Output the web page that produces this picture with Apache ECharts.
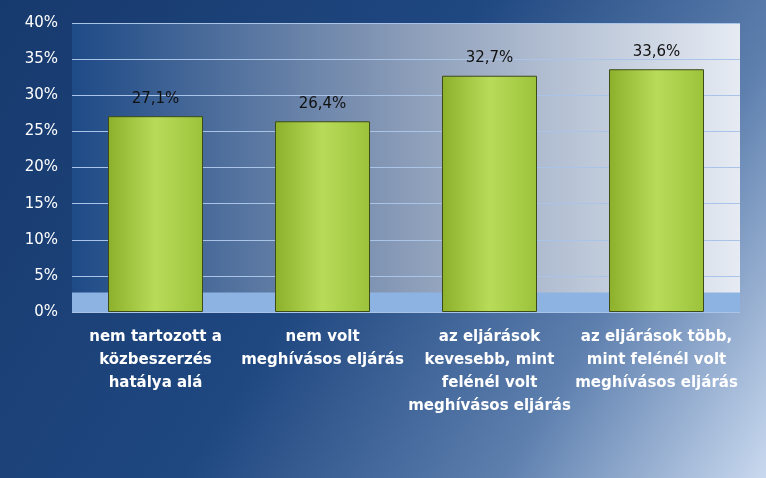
<!DOCTYPE html>
<html><head><meta charset="utf-8">
<script src="https://cdn.jsdelivr.net/npm/echarts@6/dist/echarts.min.js"></script>
<style>html,body{margin:0;padding:0}#c{width:766px;height:478px}</style>
</head><body><div id="c"></div>
<script>
const categories = ['nem tartozott a\nközbeszerzés\nhatálya alá','nem volt\nmeghívásos eljárás','az eljárások\nkevesebb, mint\nfelénél volt\nmeghívásos eljárás','az eljárások több,\nmint felénél volt\nmeghívásos eljárás'];
const values = [27.1, 26.4, 32.7, 33.6];
const valueLabels = ['27,1%','26,4%','32,7%','33,6%'];
const chart = echarts.init(document.getElementById('c'));
chart.setOption({
  backgroundColor: {type:'linear',x:0,y:0,x2:1,y2:1,colorStops:[{offset:0,color:'#173a6e'},{offset:0.45,color:'#1f4780'},{offset:0.75,color:'#5d7fae'},{offset:1,color:'#c9d9ef'}]},
  grid:{left:72,right:26,top:23,bottom:166,show:true,borderColor:'#ffffff',borderWidth:0,
    backgroundColor:{type:'linear',x:0,y:0,x2:1,y2:0,colorStops:[{offset:0,color:'#1e4a86'},{offset:0.5,color:'#8a9cb8'},{offset:1,color:'#e6ebf3'}]}},
  xAxis:{type:'category',data:categories,axisTick:{show:false},axisLine:{show:false},
    axisLabel:{color:'#ffffff',fontWeight:'bold',fontSize:15,fontFamily:'DejaVu Sans',lineHeight:23,margin:14,interval:0}},
  yAxis:{type:'value',min:0,max:40,interval:5,axisLine:{show:false},axisTick:{show:false},
    splitLine:{lineStyle:{color:'#a9c4e6',width:1}},
    axisLabel:{color:'#ffffff',fontSize:15,fontFamily:'DejaVu Sans',formatter:v=>v+'%',margin:14}},
  series:[{type:'bar',data:values,barWidth:95,
    itemStyle:{borderColor:'#3d4a1a',borderWidth:1,
      color:{type:'linear',x:0,y:0,x2:1,y2:0,colorStops:[{offset:0,color:'#8cb02a'},{offset:0.5,color:'#b8dc5a'},{offset:1,color:'#9cc23a'}]}},
    label:{show:true,position:'top',distance:10,color:'#111',fontSize:15,fontFamily:'DejaVu Sans',formatter:p=>valueLabels[p.dataIndex]},
    markArea:{silent:true,itemStyle:{color:'#8db3e2'},data:[[{yAxis:0},{yAxis:2.7}]]},
    z:3}]
});
</script></body></html>
